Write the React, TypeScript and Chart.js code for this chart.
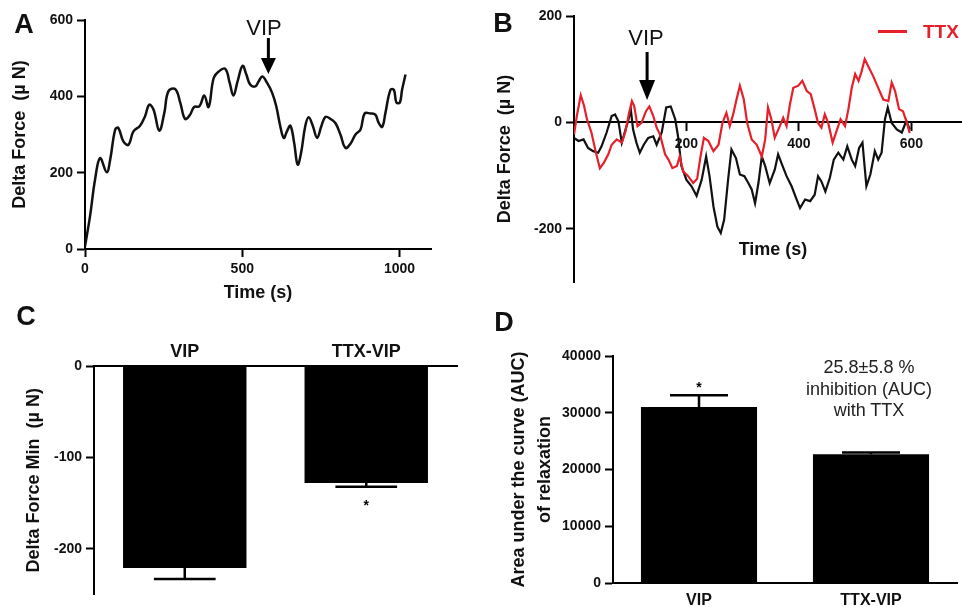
import React, { useEffect, useRef } from "react";
import { Chart, registerables } from "chart.js";
Chart.register(...registerables);

// ---------- DATA ----------
// Panel A: contraction trace, VIP added at ~583 s
const timeA = [0,16,32,48,69,80,96,106,122,138,154,175,191,204,218,236,252,265,287,303,318,334,347,364,379,393,409,425,446,460,472,485,501,513,525,541,552,564,579,595,608,621,632,642,653,665,676,687,700,711,724,738,751,764,780,796,812,828,844,860,876,889,908,923,934,945,955,971,982,990,1001,1008,1019];
const forceA = [7,86,182,238,201,234,313,317,282,273,308,323,348,378,365,310,356,413,419,383,341,352,372,374,402,372,448,465,472,435,402,439,480,457,431,426,439,452,435,409,374,321,291,308,323,278,221,252,321,345,323,291,321,346,341,330,300,265,276,300,313,355,355,352,330,320,356,417,417,384,384,417,457];
const vipTimeA = 583;
const xTicksA = [0, 500, 1000];
const yTicksA = [0, 200, 400, 600];

// Panel B: control (black) and TTX (red) traces, VIP added at ~130 s
const timeBctrl = [0,8,17,25,34,43,49,58,67,73,79,85,91,97,101,105,111,117,124,132,141,147,156,164,172,180,185,191,200,209,218,227,235,241,248,255,261,267,274,280,288,295,303,310,316,322,328,334,340,348,357,363,371,378,387,396,402,411,420,428,434,440,447,455,462,470,479,486,494,500,507,513,520,527,535,541,547,553,558,565,574,583,591,597];
const forceBctrl = [-29,-35,-32,-48,-54,-57,-45,-19,12,15,2,-38,-16,6,25,-13,-38,-57,-42,-29,-26,-42,-19,28,30,6,-26,-82,-108,-120,-138,-108,-64,-101,-158,-196,-208,-183,-108,-51,-67,-98,-101,-114,-126,-152,-114,-64,-82,-114,-89,-60,-82,-101,-120,-145,-161,-145,-148,-136,-101,-111,-130,-104,-70,-57,-70,-45,-70,-82,-48,-38,-120,-98,-54,-70,-57,6,28,-1,-13,-19,3,-13];
const timeBttx = [0,5,12,18,23,31,39,46,53,61,67,76,85,91,98,103,107,113,120,128,134,141,147,153,162,168,175,183,188,194,203,212,219,225,231,239,248,257,264,271,277,283,289,295,302,308,316,325,334,340,345,351,357,366,372,378,384,390,399,406,414,421,428,434,440,446,452,460,467,474,482,488,494,500,506,511,517,523,532,541,550,559,565,571,578,585,592,597];
const forceBttx = [-23,12,51,31,6,-19,-57,-86,-76,-60,-42,-32,-38,-19,18,40,31,-7,-1,21,30,12,-10,-23,-60,-70,-86,-82,-64,-92,-101,-114,-106,-64,-29,-35,-54,-42,-1,18,-7,15,43,69,43,-1,-32,-42,-64,-32,28,6,-29,-7,9,-7,34,65,69,78,59,53,25,-1,-10,15,-1,-38,-16,6,-7,25,65,91,78,94,119,106,87,65,43,40,75,59,25,21,-1,-20];
const vipTimeB = 130;
const xTicksB = [200, 400, 600];
const yTicksB = [-200, 0, 200];

// Panels C and D
const groups = ["VIP", "TTX-VIP"];
const minForce = [-221, -128];
const minForceSem = [12, 4];
const yTicksC = [-200, -100, 0];
const aucValues = [31000, 22700];
const aucSem = [2100, 300];
const yTicksD = [0, 10000, 20000, 30000, 40000];

// ---------- STYLE ----------
const FAMILY = "'Liberation Sans', Arial, Helvetica, sans-serif";
const INK = "#111";
const RED = "#e5202a";
const border = { display: true, color: "#000", width: 2 };
const tickGrid = { display: true, drawOnChartArea: false, drawTicks: true, tickLength: 8, tickColor: "#000", tickWidth: 2 };
const tickFont = { family: FAMILY, size: 14, weight: "bold" as const, lineHeight: 1.2 };
const titleFont = { family: FAMILY, size: 18, weight: "bold" as const, lineHeight: 1 };
const setTicks = (vals: number[]) => (s: any) => { s.ticks = vals.map((v) => ({ value: v })); };
const plain = (v: any) => String(v);

const arrowPlugin = {
  id: "vipArrow",
  afterDraw(chart: any, _a: any, o: any) {
    const x = chart.scales.x.getPixelForValue(o.at);
    const ctx = chart.ctx;
    ctx.save();
    ctx.fillStyle = "#000";
    ctx.strokeStyle = "#000";
    ctx.lineWidth = 3;
    ctx.beginPath();
    ctx.moveTo(x, o.top);
    ctx.lineTo(x, o.tip - o.headLen + 1);
    ctx.stroke();
    ctx.beginPath();
    ctx.moveTo(x - o.head / 2, o.tip - o.headLen);
    ctx.lineTo(x + o.head / 2, o.tip - o.headLen);
    ctx.lineTo(x, o.tip);
    ctx.closePath();
    ctx.fill();
    ctx.restore();
  },
};

const errPlugin = {
  id: "errBars",
  afterDatasetsDraw(chart: any, _a: any, o: any) {
    const meta = chart.getDatasetMeta(0);
    const ys = chart.scales.y;
    const ctx = chart.ctx;
    ctx.save();
    ctx.strokeStyle = "#000";
    ctx.fillStyle = "#000";
    ctx.lineWidth = 2.5;
    meta.data.forEach((bar: any, i: number) => {
      const v = o.values[i];
      const end = v + Math.sign(v) * o.sem[i];
      const y0 = ys.getPixelForValue(v);
      const y1 = ys.getPixelForValue(end);
      const w = bar.width * o.cap;
      ctx.beginPath();
      ctx.moveTo(bar.x, y0);
      ctx.lineTo(bar.x, y1);
      ctx.moveTo(bar.x - w / 2, y1);
      ctx.lineTo(bar.x + w / 2, y1);
      ctx.stroke();
      if (o.starIndex === i) {
        ctx.font = `bold 14px ${FAMILY}`;
        ctx.textAlign = "center";
        ctx.textBaseline = "middle";
        ctx.fillText("*", bar.x, y1 + o.starOffset);
      }
    });
    ctx.restore();
  },
};

const basePlugins = { legend: { display: false }, tooltip: { enabled: false } };

function makeA(): any {
  return {
    type: "line",
    data: {
      datasets: [{
        data: timeA.map((t, i) => ({ x: t, y: forceA[i] })),
        borderColor: INK, borderWidth: 2.5, pointRadius: 0, tension: 0.4, fill: false,
      }],
    },
    options: {
      responsive: false, animation: false, devicePixelRatio: 1,
      layout: { padding: { top: 20, right: 49, left: 0, bottom: 0 } },
      plugins: { ...basePlugins, vipArrow: { at: vipTimeA, top: 38, tip: 74, headLen: 16, head: 15 } },
      scales: {
        x: {
          type: "linear", min: 0, max: 1100,
          afterBuildTicks: setTicks(xTicksA), afterFit: (s: any) => { s.height = 56; },
          ticks: { font: tickFont, color: INK, padding: 4, maxRotation: 0, autoSkip: false, callback: plain },
          grid: tickGrid, border,
          title: { display: true, text: "Time (s)", font: titleFont, color: INK, padding: { top: 0, bottom: 3 } },
        },
        y: {
          min: 0, max: 600,
          afterBuildTicks: setTicks(yTicksA), afterFit: (s: any) => { s.width = 85; },
          ticks: { font: tickFont, color: INK, padding: 4, autoSkip: false, callback: plain },
          grid: tickGrid, border,
          title: { display: true, text: "Delta Force  (µ N)", font: titleFont, color: INK, padding: { top: 11, bottom: 0 } },
        },
      },
    },
    plugins: [arrowPlugin],
  };
}

function makeB(): any {
  return {
    type: "line",
    data: {
      datasets: [
        { label: "TTX", data: timeBttx.map((t, i) => ({ x: t, y: forceBttx[i] })), borderColor: RED, borderWidth: 2.2, pointRadius: 0, tension: 0, order: 0 },
        { label: "Control", data: timeBctrl.map((t, i) => ({ x: t, y: forceBctrl[i] })), borderColor: INK, borderWidth: 2.2, pointRadius: 0, tension: 0, order: 1 },
      ],
    },
    options: {
      responsive: false, animation: false, devicePixelRatio: 1,
      layout: { padding: { top: 16, right: 0, left: 0, bottom: 18 } },
      plugins: { ...basePlugins, vipArrow: { at: vipTimeB, top: 52, tip: 100, headLen: 20, head: 16 } },
      scales: {
        x: {
          type: "linear", min: 0, max: 690, position: { y: 0 },
          afterBuildTicks: setTicks(xTicksB), afterFit: (s: any) => { s.height = 0; },
          ticks: { font: tickFont, color: INK, padding: 5, maxRotation: 0, autoSkip: false, callback: plain },
          grid: tickGrid, border,
        },
        y: {
          min: -300, max: 200,
          afterBuildTicks: setTicks(yTicksB), afterFit: (s: any) => { s.width = 94; },
          ticks: { font: tickFont, color: INK, padding: 4, autoSkip: false, callback: plain },
          grid: tickGrid, border,
          title: { display: true, text: "Delta Force  (µ N)", font: titleFont, color: INK, padding: { top: 16, bottom: 0 } },
        },
      },
    },
    plugins: [arrowPlugin],
  };
}

function makeC(): any {
  return {
    type: "bar",
    data: { labels: groups, datasets: [{ data: minForce, backgroundColor: "#000", barPercentage: 0.68, categoryPercentage: 1 }] },
    options: {
      responsive: false, animation: false, devicePixelRatio: 1,
      layout: { padding: { top: 0, right: 23, left: 0, bottom: 0 } },
      plugins: { ...basePlugins, errBars: { values: minForce, sem: minForceSem, cap: 0.5, starIndex: 1, starOffset: 19 } },
      scales: {
        x: {
          position: "top",
          afterFit: (s: any) => { s.height = 66; },
          grid: { display: false, drawTicks: false }, border,
          ticks: { font: { family: FAMILY, size: 18, weight: "bold", lineHeight: 1.2 }, color: INK, padding: 3 },
        },
        y: {
          min: -250, max: 0,
          afterBuildTicks: setTicks(yTicksC), afterFit: (s: any) => { s.width = 94; },
          ticks: { font: tickFont, color: INK, padding: 4, autoSkip: false, callback: plain },
          grid: tickGrid, border,
          title: { display: true, text: "Delta Force Min  (µ N)", font: titleFont, color: INK, padding: { top: 25, bottom: 0 } },
        },
      },
    },
    plugins: [errPlugin],
  };
}

function makeD(): any {
  return {
    type: "bar",
    data: { labels: groups, datasets: [{ data: aucValues, backgroundColor: "#000", barPercentage: 0.675, categoryPercentage: 1 }] },
    options: {
      responsive: false, animation: false, devicePixelRatio: 1,
      layout: { padding: { top: 56, right: 5, left: 0, bottom: 0 } },
      plugins: { ...basePlugins, errBars: { values: aucValues, sem: aucSem, cap: 0.5, starIndex: 0, starOffset: -7 } },
      scales: {
        x: {
          afterFit: (s: any) => { s.height = 24; },
          grid: { display: false, drawTicks: false }, border,
          ticks: { font: { family: FAMILY, size: 16, weight: "bold", lineHeight: 1.2 }, color: INK, padding: 8 },
        },
        y: {
          min: 0, max: 40000,
          afterBuildTicks: setTicks(yTicksD), afterFit: (s: any) => { s.width = 133; },
          ticks: { font: tickFont, color: INK, padding: 4, autoSkip: false, callback: plain },
          grid: tickGrid, border,
          title: {
            display: true, text: ["Area under the curve (AUC)", "of relaxation"],
            font: { family: FAMILY, size: 18, weight: "bold", lineHeight: 1.444 }, color: INK, padding: { top: 26, bottom: 0 },
          },
        },
      },
    },
    plugins: [errPlugin],
  };
}

function Panel({ left, top, width, height, make }: any) {
  const ref = useRef<HTMLCanvasElement>(null);
  useEffect(() => {
    const chart = new Chart(ref.current as HTMLCanvasElement, make());
    return () => chart.destroy();
  }, []);
  return (
    <canvas ref={ref} width={width} height={height}
      style={{ position: "absolute", left, top, width, height }} />
  );
}

function Txt({ x, y, size, bold, color, children, anchor }: any) {
  return (
    <div style={{
      position: "absolute", left: x, top: y,
      transform: anchor === "left" ? "translate(0,-50%)" : "translate(-50%,-50%)",
      fontFamily: FAMILY, fontSize: size, fontWeight: bold ? "bold" : "normal",
      color: color || INK, lineHeight: 1, whiteSpace: "nowrap", textAlign: "center",
    }}>{children}</div>
  );
}

export default function App() {
  return (
    <div style={{ position: "absolute", left: 0, top: 0, width: 962, height: 607, background: "#fff", overflow: "hidden" }}>
      <Panel left={0} top={0} width={480} height={305} make={makeA} />
      <Panel left={480} top={0} width={482} height={300} make={makeB} />
      <Panel left={0} top={300} width={480} height={307} make={makeC} />
      <Panel left={480} top={300} width={482} height={307} make={makeD} />

      <Txt x={24} y={24} size={27} bold>A</Txt>
      <Txt x={503} y={23} size={27} bold>B</Txt>
      <Txt x={26} y={316} size={27} bold>C</Txt>
      <Txt x={504} y={322} size={27} bold>D</Txt>

      <Txt x={264} y={28} size={22}>VIP</Txt>
      <Txt x={646} y={38} size={22}>VIP</Txt>
      <Txt x={773} y={249} size={18} bold>Time (s)</Txt>

      <div style={{ position: "absolute", left: 878, top: 30, width: 29, height: 3, background: RED }} />
      <Txt x={923} y={31} size={19} bold color={RED} anchor="left">TTX</Txt>

      <div style={{
        position: "absolute", left: 869, top: 389, transform: "translate(-50%,-50%)",
        fontFamily: FAMILY, fontSize: 18, lineHeight: "21.5px", color: "#222", textAlign: "center", whiteSpace: "nowrap",
      }}>
        25.8±5.8 %<br />inhibition (AUC)<br />with TTX
      </div>
    </div>
  );
}
